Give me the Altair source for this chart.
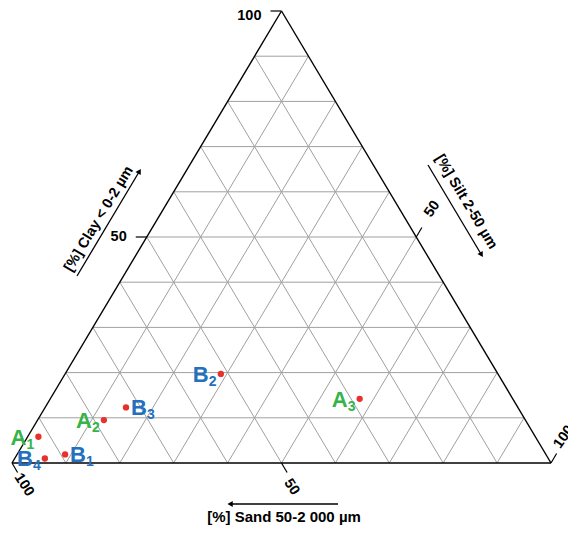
import altair as alt
import pandas as pd

# ---------------- data ----------------
sample_letter = ["A", "B", "B", "A", "B", "B", "A"]
sample_index = ["1", "4", "1", "2", "3", "2", "3"]
label_side = ["left", "left", "right", "left", "right", "left", "left"]
sand = [92.2, 93.4, 89.2, 78.2, 72.7, 51.4, 28.4]
silt = [2.0, 5.6, 8.9, 12.3, 15.0, 28.9, 57.4]
clay = [5.8, 1.0, 1.9, 9.5, 12.3, 19.7, 14.2]

grid_values = [10, 20, 30, 40, 50, 60, 70, 80, 90]
tick_values = [50, 100]
tick_labels = ["50", "100"]
clay_title = "[%] Clay < 0-2 µm"
silt_title = "[%] Silt 2-50 µm"
sand_title = "[%] Sand 50-2 000 µm"

# ---------------- geometry helpers ----------------
PX, PY = 539.0, 452.0          # pixels per unit of X / Y
W, H = 560, 518
X0 = -4.0 / PX
X1 = X0 + W / PX
Y1 = 455.0 / PY
Y0 = Y1 - H / PY


def tern(sa, si, cl):
    return (si + cl / 2.0) / 100.0, cl / 100.0


def seg(p, q):
    return {"x": p[0], "y": p[1], "x2": q[0], "y2": q[1]}


def off(p, dx, dy):
    # shift a data point by a pixel offset
    return p[0] + dx / PX, p[1] - dy / PY


def px(x, y):
    # page-pixel position to data units
    return (x - 12.0) / PX, (463.0 - y) / PY


xs = alt.Scale(domain=[X0, X1], nice=False, zero=False)
ys = alt.Scale(domain=[Y0, Y1], nice=False, zero=False)
X = alt.X("x:Q", scale=xs, axis=None)
Y = alt.Y("y:Q", scale=ys, axis=None)

# grid
grid_rows = []
for v in grid_values:
    grid_rows.append(seg(tern(100 - v, 0, v), tern(0, 100 - v, v)))      # clay
    grid_rows.append(seg(tern(100 - v, v, 0), tern(0, v, 100 - v)))      # silt
    grid_rows.append(seg(tern(v, 100 - v, 0), tern(v, 0, 100 - v)))      # sand
grid = alt.Chart(pd.DataFrame(grid_rows)).mark_rule(
    color="#a0a0a0", strokeWidth=1
).encode(x=X, y=Y, x2="x2:Q", y2="y2:Q")

# border
BL, BR, TP = tern(100, 0, 0), tern(0, 100, 0), tern(0, 0, 100)
border = alt.Chart(pd.DataFrame([seg(BL, BR), seg(BR, TP), seg(TP, BL)])).mark_rule(
    color="black", strokeWidth=1.4
).encode(x=X, y=Y, x2="x2:Q", y2="y2:Q")

# ticks
L = 11.0
clay_off = {"50": (-20, 0), "100": (-20, 5)}
silt_off = {"50": (16, -28), "100": (13, -26)}
sand_off = {"50": (10, 24), "100": (12, 22)}
tick_rows, clay_lab, rot_lab = [], [], []
for v, t in zip(tick_values, tick_labels):
    p = tern(100 - v, 0, v)
    tick_rows.append(seg(p, off(p, -L, 0)))
    q = off(p, *clay_off[t])
    clay_lab.append({"x": q[0], "y": q[1], "t": t})
    p = tern(0, v, 100 - v)
    tick_rows.append(seg(p, off(p, 0.51 * L, -0.86 * L)))
    q = off(p, *silt_off[t])
    rot_lab.append({"x": q[0], "y": q[1], "t": t, "a": 305})
    p = tern(v, 100 - v, 0)
    tick_rows.append(seg(p, off(p, 0.51 * L, 0.86 * L)))
    q = off(p, *sand_off[t])
    rot_lab.append({"x": q[0], "y": q[1], "t": t, "a": 57})
ticks = alt.Chart(pd.DataFrame(tick_rows)).mark_rule(
    color="black", strokeWidth=1.2
).encode(x=X, y=Y, x2="x2:Q", y2="y2:Q")

FONT = "Liberation Sans"
tk = dict(font=FONT, fontWeight="bold", fontSize=14.5, color="black", baseline="middle")
clay_ticklab = alt.Chart(pd.DataFrame(clay_lab)).mark_text(
    align="right", **tk).encode(x=X, y=Y, text="t:N")
rot_ticklab = alt.Chart(pd.DataFrame(rot_lab)).mark_text(
    align="center", **tk).encode(x=X, y=Y, text="t:N", angle=alt.Angle("a:Q", scale=None))

# axis titles
cp, sp, bp = px(99, 219), px(466, 202), px(284, 517)
titles = pd.DataFrame([
    {"x": cp[0], "y": cp[1], "t": clay_title, "a": 301, "s": 14.5},
    {"x": sp[0], "y": sp[1], "t": silt_title, "a": 59, "s": 14.5},
    {"x": bp[0], "y": bp[1], "t": sand_title, "a": 0, "s": 15},
])
title_marks = alt.Chart(titles).mark_text(
    font=FONT, fontWeight="bold", color="black",
    align="center", baseline="middle"
).encode(x=X, y=Y, text="t:N", angle=alt.Angle("a:Q", scale=None),
         size=alt.Size("s:Q", scale=None))

# arrows
arrow_lines = [seg(px(338, 504), px(231, 504)),
               seg(px(77, 276), px(139, 172)),
               seg(px(428, 165), px(481, 254))]
arrows = alt.Chart(pd.DataFrame(arrow_lines)).mark_rule(
    color="black", strokeWidth=1.3
).encode(x=X, y=Y, x2="x2:Q", y2="y2:Q")
heads = pd.DataFrame([
    dict(zip(["x", "y"], px(231, 504)), a=270),
    dict(zip(["x", "y"], px(139, 172)), a=31),
    dict(zip(["x", "y"], px(481, 254)), a=149),
])
arrow_heads = alt.Chart(heads).mark_point(
    shape="triangle", filled=True, color="black", size=38, opacity=1
).encode(x=X, y=Y, angle=alt.Angle("a:Q", scale=None))

# samples
samples = pd.DataFrame({
    "letter": sample_letter, "idx": sample_index, "side": label_side,
    "sand": sand, "silt": silt, "clay": clay,
})
base = alt.Chart(samples).transform_calculate(
    x="(datum.silt + datum.clay / 2) / 100", y="datum.clay / 100"
)
pts = base.mark_point(filled=True, color="#e8312f", size=40, opacity=1).encode(x=X, y=Y)

lab_color = alt.Color(
    "letter:N", scale=alt.Scale(domain=["A", "B"], range=["#35b44a", "#2470bd"]), legend=None
)
mk = dict(font=FONT, fontWeight="bold", align="left", baseline="alphabetic")
layers = []
for side, dmain, dsub in [("left", -28, -12), ("right", 5, 21)]:
    b = base.transform_filter(alt.datum.side == side)
    layers.append(b.mark_text(fontSize=22, dx=dmain, dy=8, **mk).encode(
        x=X, y=Y, text="letter:N", color=lab_color))
    layers.append(b.mark_text(fontSize=14, dx=dsub, dy=12, **mk).encode(
        x=X, y=Y, text="idx:N", color=lab_color))

chart = alt.layer(
    grid, border, ticks, clay_ticklab, rot_ticklab, title_marks,
    arrows, arrow_heads, pts, *layers
).properties(
    width=W, height=H, padding=0, autosize=alt.AutoSizeParams(type="none")
).configure_view(stroke=None)

chart.save("out.html", embed_options={"renderer": "svg", "actions": False})
